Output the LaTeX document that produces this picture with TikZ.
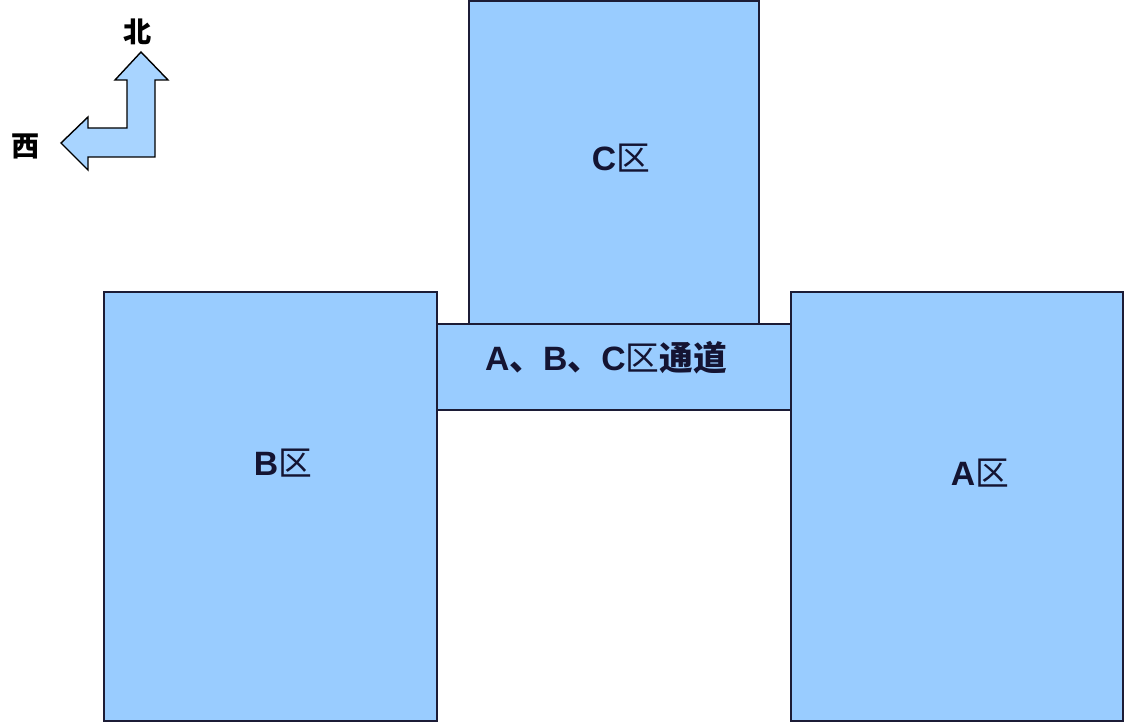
\documentclass[tikz,border=0pt]{standalone}
\usepackage{fontspec}
\setmainfont{Liberation Sans}
\newfontfamily\cjkfont{Noto Sans CJK SC}
\usetikzlibrary{positioning}
\definecolor{zoneblue}{HTML}{99CCFF}
\definecolor{edgenavy}{HTML}{1C1C36}
\definecolor{textnavy}{HTML}{141432}
\newcommand{\px}{0.025cm}
\newcommand{\qu}{{\cjkfont\mdseries 区}}
\tikzset{
  zone/.style={
    rectangle, draw=edgenavy, fill=zoneblue, line width=1.4pt,
    inner sep=0pt, anchor=north west
  },
  zonelabel/.style={
    font=\fontsize{24}{26}\selectfont\bfseries, text=textnavy
  },
  compass/.style={
    draw=black, fill=zoneblue!85!white, line width=1pt, line join=miter
  },
  dirlabel/.style={
    font=\cjkfont\bfseries\fontsize{20}{22}\selectfont, text=black
  }
}

\begin{document}
\begin{tikzpicture}[x=\px, y=-\px]
    \useasboundingbox (0,0) rectangle (1124,722);

    % C区
    \node[zone, minimum width=290*\px, minimum height=323*\px] (czone)
      at (468,0) {};
    \node[zonelabel] (clabel) at (621,158) {C\qu};

    % 通道
    \node[zone, minimum width=354*\px, minimum height=86*\px] (corridor)
      at (436,323) {};
    \node[zonelabel] (corrlabel) at (606,358)
      {A{\cjkfont 、}B{\cjkfont 、}C\qu{\cjkfont 通道}};

    % B区
    \node[zone, minimum width=333*\px, minimum height=429*\px] (bzone)
      at (103,291) {};
    \node[zonelabel] (blabel) at (283,463) {B\qu};

    % A区
    \node[zone, minimum width=332*\px, minimum height=429*\px] (azone)
      at (790,291) {};
    \node[zonelabel] (alabel) at (980,473) {A\qu};

    % 方向
    \draw[compass] (141,52) -- (168,80) -- (155,80) -- (155,157)
      -- (88,157) -- (88,170) -- (61,143) -- (88,117) -- (88,128)
      -- (127,128) -- (127,80) -- (115,80) -- cycle;
    \node[dirlabel] (north) at (138,32) {北};
    \node[dirlabel] (west) at (26,146) {西};
  \end{tikzpicture}
\end{document}
